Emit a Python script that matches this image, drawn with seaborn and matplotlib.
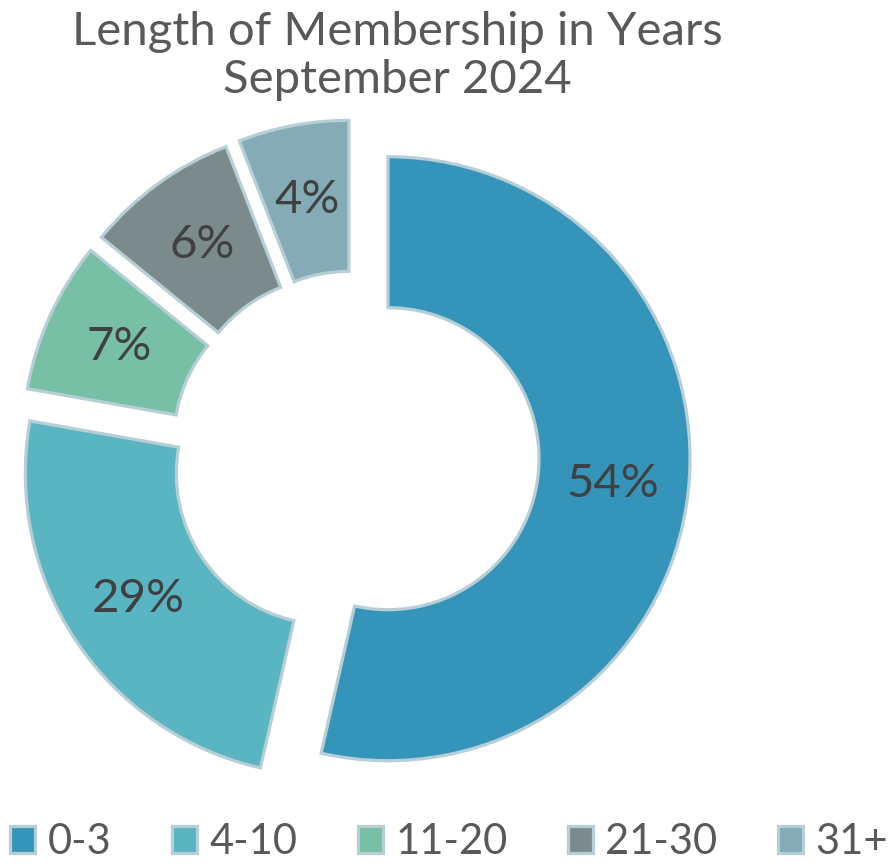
import matplotlib
matplotlib.use("Agg")
import matplotlib.pyplot as plt
import seaborn as sns
import numpy as np

categories = ["0-3", "4-10", "11-20", "21-30", "31+"]
# wedge sizes as drawn
values = [53.5, 24.2, 8.1, 8.2, 5.9]
# percentage labels as printed on the slices
pct_labels = ["54%", "29%", "7%", "6%", "4%"]
colors = ["#3594BA", "#59B5C1", "#77BFA5", "#7B8B8C", "#84ABB6"]
title_lines = ["Length of Membership in Years", "September 2024"]

sns.set_theme(style="white")
plt.rcParams["font.family"] = ["Lato", "DejaVu Sans"]

W, H = 894, 865
fig = plt.figure(figsize=(W / 100, H / 100), dpi=100)
ax = fig.add_axes([0, 0, 1, 1])

cx, cy, R = 355, 455, 302
wedges, texts = ax.pie(
    values,
    colors=colors,
    startangle=90,
    counterclock=False,
    radius=1.0,
    explode=[0.11] * len(values),
    wedgeprops=dict(width=0.5, edgecolor="#B6CED5", linewidth=2.3),
)
ax.set_aspect("auto")
ax.set_xlim((0 - cx) / R, (W - cx) / R)
ax.set_ylim((cy - H) / R, (cy - 0) / R)
ax.axis("off")

for w, lab in zip(wedges, pct_labels):
    ang = np.deg2rad((w.theta1 + w.theta2) / 2)
    x0, y0 = w.center
    ax.text(x0 + 0.75 * np.cos(ang), y0 + 0.75 * np.sin(ang), lab,
            ha="center", va="center", fontsize=34, color="#404040")

fig.text(397 / W, 1 - 32 / H, title_lines[0], ha="center", va="center",
         fontsize=34, color="#595959")
fig.text(397 / W, 1 - 80 / H, title_lines[1], ha="center", va="center",
         fontsize=34, color="#595959")

leg = fig.legend(wedges, categories, loc="center", bbox_to_anchor=(449 / W, 1 - 842 / H),
                 ncol=5, frameon=False, fontsize=30, handlelength=0.6, handleheight=0.6,
                 handletextpad=0.3, columnspacing=1.45, borderaxespad=0, borderpad=0)
for t in leg.get_texts():
    t.set_color("#595959")

fig.savefig("out.png", dpi=100)
